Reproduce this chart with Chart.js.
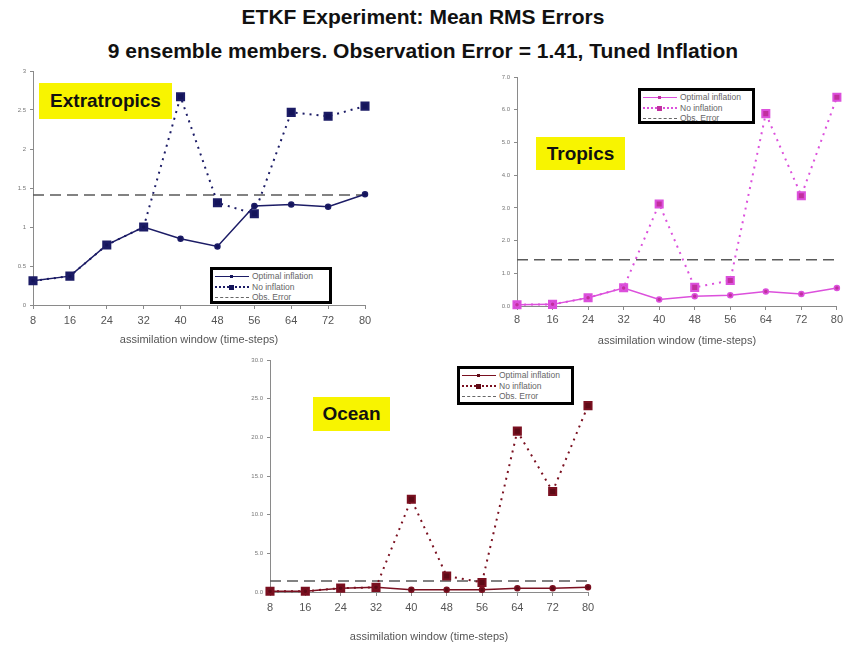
<!DOCTYPE html>
<html>
<head>
<meta charset="utf-8">
<script src="https://cdn.jsdelivr.net/npm/chart.js@4"></script>
<style>
  body { margin: 0; background: #fff; font-family: "Liberation Sans", Arial, sans-serif; }
  #page { position: relative; width: 846px; height: 646px; overflow: hidden; }
  .title { position: absolute; left: 0; width: 846px; text-align: center; font-weight: bold; font-size: 21px; color: #111; }
  canvas { position: absolute; }
  .tag { position: absolute; background: #f8f400; font-weight: bold; font-size: 19px; color: #111;
         display: flex; align-items: center; justify-content: center; }
  .lg { position: absolute; border: 3px solid #000; background: #fff; padding: 1px 2px; box-sizing: border-box; }
  .row { display: flex; align-items: center; height: 10.5px; font-size: 8.5px; color: #666; white-space: nowrap; }
  .smp { position: relative; width: 34px; height: 0; margin-right: 3px; }
  .smp i { position: absolute; left: 14px; top: -3px; width: 5px; height: 5px; }
</style>
</head>
<body>
<div id="page">
  <div class="title" style="top:5px">ETKF Experiment: Mean RMS Errors</div>
  <div class="title" style="top:39px">9 ensemble members. Observation Error = 1.41, Tuned Inflation</div>

  <canvas id="extra" width="380" height="295" style="left:0;top:60px"></canvas>
  <canvas id="trop" width="376" height="295" style="left:470px;top:60px"></canvas>
  <canvas id="ocean" width="380" height="296" style="left:225px;top:350px"></canvas>

  <div class="tag" style="left:39px;top:83px;width:133px;height:36px">Extratropics</div>
  <div class="tag" style="left:536px;top:137px;width:89px;height:33px">Tropics</div>
  <div class="tag" style="left:313px;top:397px;width:77px;height:34px">Ocean</div>

  <div id="lg-extra" class="lg" style="left:210px;top:267px;width:122px;height:37px"></div>
  <div id="lg-trop" class="lg" style="left:638px;top:88px;width:117px;height:36px"></div>
  <div id="lg-ocean" class="lg" style="left:457px;top:366px;width:117px;height:39px"></div>
</div>
<script>
// assimilation windows (time-steps)
const windows = ['8', '16', '24', '32', '40', '48', '56', '64', '72', '80'];
const obsError = 1.41;

const extraOptimal = [0.31, 0.37, 0.77, 1.0, 0.85, 0.75, 1.27, 1.29, 1.26, 1.42];
const extraNoInfl  = [0.31, 0.37, 0.77, 1.0, 2.67, 1.31, 1.17, 2.47, 2.42, 2.55];

const tropOptimal = [0.04, 0.05, 0.25, 0.55, 0.2, 0.3, 0.33, 0.44, 0.37, 0.55];
const tropNoInfl  = [0.04, 0.05, 0.25, 0.56, 3.12, 0.57, 0.78, 5.88, 3.37, 6.38];

const oceanOptimal = [0.1, 0.1, 0.5, 0.6, 0.3, 0.3, 0.3, 0.5, 0.5, 0.6];
const oceanNoInfl  = [0.1, 0.1, 0.5, 0.6, 12.0, 2.07, 1.24, 20.8, 13.0, 24.1];

const legendNames = ['Optimal inflation', 'No inflation', 'Obs. Error'];

function buildLegend(id, color, markColor) {
  const el = document.getElementById(id);
  const styles = [
    'border-top:1.5px solid ' + color,
    'border-top:2px dotted ' + color,
    'border-top:1.5px dashed #666'
  ];
  legendNames.forEach((name, i) => {
    const row = document.createElement('div');
    row.className = 'row';
    const s = document.createElement('span');
    s.className = 'smp';
    s.style.cssText = styles[i];
    if (i < 2) {
      const m = document.createElement('i');
      m.style.background = markColor;
      if (i === 0) { m.style.width = '3px'; m.style.height = '3px'; m.style.top = '-2px'; m.style.left = '15px'; }
      s.appendChild(m);
    }
    row.appendChild(s);
    row.appendChild(document.createTextNode(name));
    el.appendChild(row);
  });
}

function makePanel(id, p) {
  const ctx = document.getElementById(id).getContext('2d');
  return new Chart(ctx, {
    type: 'line',
    data: {
      labels: windows,
      datasets: [
        {
          label: legendNames[0], data: p.optimal, order: 1,
          borderColor: p.color, backgroundColor: p.mark, borderWidth: 1.5,
          pointStyle: 'circle', pointRadius: 2.5, clip: false
        },
        {
          label: legendNames[1], data: p.noInfl, order: 2,
          borderColor: p.color, backgroundColor: p.mark, borderWidth: 2,
          borderDash: [2, 5], pointStyle: 'rect', pointRadius: 5, clip: false
        },
        {
          label: legendNames[2], data: windows.map(() => obsError), order: 3,
          borderColor: '#5a5a5a', borderWidth: 1.5, borderDash: [11, 6],
          pointRadius: 0, clip: false
        }
      ]
    },
    options: {
      responsive: false,
      animation: false,
      devicePixelRatio: 1,
      layout: { padding: { top: p.padTop, right: p.padRight, left: 0, bottom: 0 } },
      plugins: { legend: { display: false }, title: { display: false }, tooltip: { enabled: false } },
      scales: {
        x: {
          offset: false,
          border: { color: '#8a8a8a' },
          grid: { drawOnChartArea: false, tickLength: 4, color: '#8a8a8a' },
          ticks: { color: '#555', font: { size: 11 }, padding: p.xPad, maxRotation: 0, autoSkip: false },
          title: {
            display: true, text: 'assimilation window (time-steps)',
            color: '#555', font: { size: 11 }, padding: { top: 0, bottom: p.titlePad }
          },
          afterFit: s => { s.height = p.xHeight; }
        },
        y: {
          min: 0, max: p.max,
          border: { color: '#8a8a8a' },
          grid: { drawOnChartArea: false, tickLength: 3, color: '#8a8a8a' },
          ticks: { stepSize: p.step, color: '#777', font: { size: 6 }, padding: 4, callback: p.fmt },
          afterFit: s => { s.width = p.yWidth; }
        }
      }
    }
  });
}

makePanel('extra', {
  optimal: extraOptimal, noInfl: extraNoInfl, color: '#1c1c66', mark: '#14145a',
  max: 3, step: 0.5, fmt: v => String(v),
  padTop: 11, padRight: 15, yWidth: 33, xHeight: 50, xPad: 5, titlePad: 8
});
makePanel('trop', {
  optimal: tropOptimal, noInfl: tropNoInfl, color: '#dc50dc', mark: '#c0309e',
  max: 7, step: 1, fmt: v => v.toFixed(1),
  padTop: 17, padRight: 5, yWidth: 47, xHeight: 49, xPad: 3, titlePad: 7
});
makePanel('ocean', {
  optimal: oceanOptimal, noInfl: oceanNoInfl, color: '#7a1020', mark: '#5e0a16',
  max: 30, step: 5, fmt: v => v.toFixed(1),
  padTop: 10, padRight: 17, yWidth: 45, xHeight: 54, xPad: 5, titlePad: 2
});

buildLegend('lg-extra', '#1c1c66', '#14145a');
buildLegend('lg-trop', '#dc50dc', '#c0309e');
buildLegend('lg-ocean', '#7a1020', '#5e0a16');
</script>
</body>
</html>
